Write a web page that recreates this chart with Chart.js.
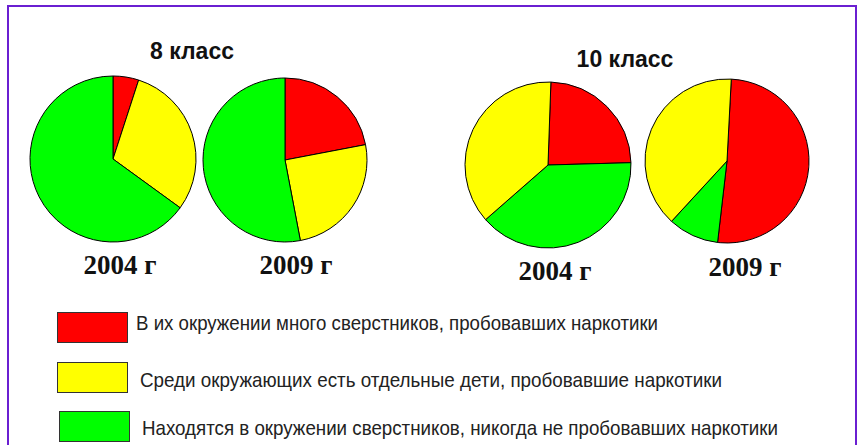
<!DOCTYPE html>
<html>
<head>
<meta charset="utf-8">
<script src="https://cdn.jsdelivr.net/npm/chart.js@4"></script>
<style>
  html, body { margin: 0; padding: 0; background: #fff; }
  #page { position: relative; width: 858px; height: 445px; overflow: hidden; background: #fff; }
  #frame { position: absolute; left: 7px; top: 5px; width: 850px; height: 460px;
    border: 2px solid #6a1fd1; box-sizing: border-box; }
  .pie { position: absolute; width: 170px; height: 170px; }
  .grade { position: absolute; font: bold 23px "Liberation Sans", Arial, sans-serif; line-height: 23px;
    color: #111; white-space: nowrap; transform: translateX(-50%); }
  .year { position: absolute; font: bold 27px "Liberation Serif", "Times New Roman", serif; line-height: 27px;
    color: #111; white-space: nowrap; transform: translateX(-50%); }
  .box { position: absolute; width: 69px; height: 29px; border: 1px solid #333; }
  .lbl { position: absolute; font: 21px "Liberation Sans", Arial, sans-serif; line-height: 21px;
    color: #222; white-space: nowrap; transform-origin: 0 0; }
</style>
</head>
<body>
<div id="page">
  <div id="frame"></div>
</div>
<script>
// categories (legend) and colours
const categories = [
  "В их окружении много сверстников, пробовавших наркотики",
  "Среди окружающих есть отдельные дети, пробовавшие наркотики",
  "Находятся в окружении сверстников, никогда не пробовавших наркотики"
];
const colors = ["#ff0000", "#ffff00", "#00ff00"];

// shares, %, in category order: [many, some, none]
const grade8_2004 = [5, 30, 65];
const grade8_2009 = [22, 25, 53];
const grade10_2004 = [24, 37, 39];
const grade10_2009 = [51, 39, 10];

const gradeTitles = ["8 класс", "10 класс"];
const years = ["2004 г", "2009 г"];

// slice order clockwise from the top
const order8 = [0, 1, 2];
const order10 = [0, 2, 1];

const page = document.getElementById("page");

const pies = [
  { data: grade8_2004, order: order8, cx: 113, cy: 159, r: 83, rot: 0, year: years[0], yx: 120, yy: 252 },
  { data: grade8_2009, order: order8, cx: 285, cy: 160, r: 82, rot: 0, year: years[1], yx: 296, yy: 252 },
  { data: grade10_2004, order: order10, cx: 548, cy: 165, r: 83, rot: 2, year: years[0], yx: 555, yy: 258 },
  { data: grade10_2009, order: order10, cx: 727, cy: 161, r: 82, rot: 3, year: years[1], yx: 745, yy: 254 }
];

pies.forEach(p => {
  const c = document.createElement("canvas");
  c.className = "pie";
  c.width = 170; c.height = 170;
  c.style.left = (p.cx - 85) + "px";
  c.style.top = (p.cy - 85) + "px";
  page.appendChild(c);
  new Chart(c.getContext("2d"), {
    type: "pie",
    data: {
      labels: p.order.map(i => categories[i]),
      datasets: [{
        data: p.order.map(i => p.data[i]),
        backgroundColor: p.order.map(i => colors[i]),
        borderColor: "#000",
        borderWidth: 1,
        hoverOffset: 0
      }]
    },
    options: {
      responsive: false,
      animation: false,
      radius: p.r,
      rotation: p.rot,
      layout: { padding: 0 },
      events: [],
      plugins: { legend: { display: false }, tooltip: { enabled: false } }
    }
  });

  const y = document.createElement("div");
  y.className = "year";
  y.textContent = p.year;
  y.style.left = p.yx + "px";
  y.style.top = p.yy + "px";
  page.appendChild(y);
});

[[gradeTitles[0], 192, 40], [gradeTitles[1], 625, 48]].forEach(([t, x, top]) => {
  const d = document.createElement("div");
  d.className = "grade";
  d.textContent = t;
  d.style.left = x + "px";
  d.style.top = top + "px";
  page.appendChild(d);
});

// legend
const legendPos = [
  { bx: 57, by: 312, tx: 136, ty: 312, w: 522 },
  { bx: 57, by: 362, tx: 140, ty: 369, w: 582 },
  { bx: 59, by: 411, tx: 142, ty: 417, w: 636 }
];
categories.forEach((name, i) => {
  const pos = legendPos[i];
  const b = document.createElement("div");
  b.className = "box";
  b.style.left = pos.bx + "px";
  b.style.top = pos.by + "px";
  b.style.background = colors[i];
  page.appendChild(b);
  const t = document.createElement("div");
  t.className = "lbl";
  t.textContent = name;
  t.style.left = pos.tx + "px";
  t.style.top = pos.ty + "px";
  page.appendChild(t);
  const w = t.getBoundingClientRect().width;
  t.style.transform = `scaleX(${pos.w / w})`;
});
</script>
</body>
</html>
